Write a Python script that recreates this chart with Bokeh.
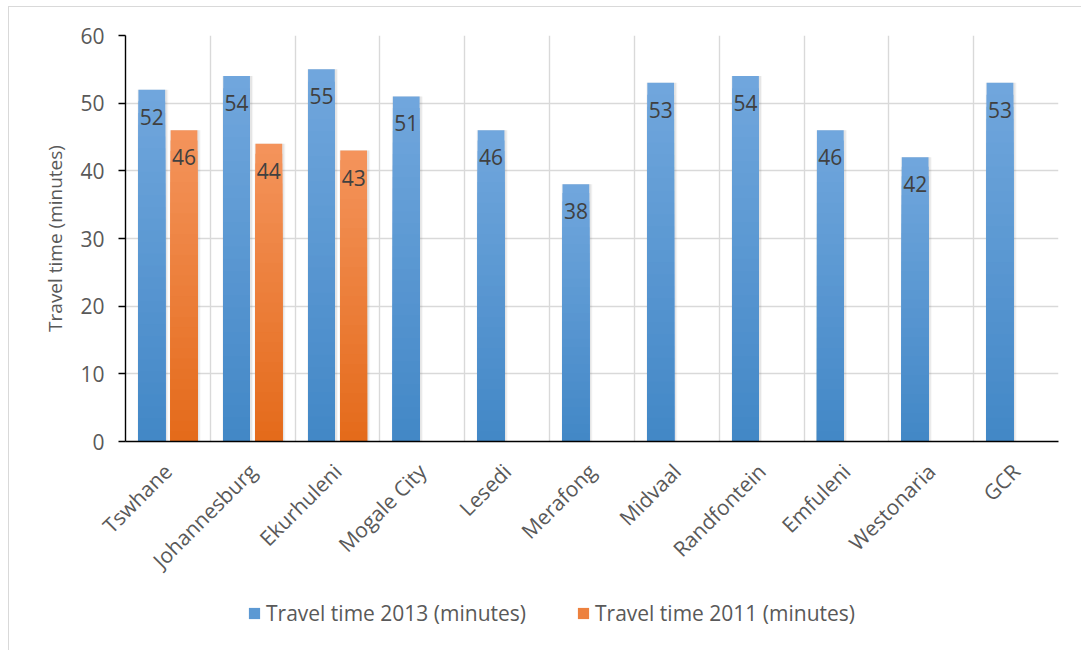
import math
from bokeh.plotting import figure
from bokeh.layouts import column
from bokeh.models import (Range1d, FixedTicker, ColumnDataSource, Legend,
                          LegendItem, InlineStyleSheet)
from bokeh.core.properties import value
from bokeh.embed import file_html
from bokeh.resources import INLINE

# ---- data -------------------------------------------------------------
regions = ["Tswhane", "Johannesburg", "Ekurhuleni", "Mogale City", "Lesedi",
           "Merafong", "Midvaal", "Randfontein", "Emfuleni", "Westonaria", "GCR"]
time_2013 = [52, 54, 55, 51, 46, 38, 53, 54, 46, 42, 53]
time_2011 = [46, 44, 43]          # only the three metros have 2011 figures
y_ticks = [0, 10, 20, 30, 40, 50, 60]
series_names = ["Travel time 2013 (minutes)", "Travel time 2011 (minutes)"]

# ---- styling ------------------------------------------------------------
FONT = "Open Sans"
TEXT = "#595959"
LABEL = "#404040"
GRID = "#d9d9d9"
BAR_W = 0.315
OFFSETS = [-0.19, 0.19]
BLUE = ((0x71, 0xa7, 0xdd), (0x42, 0x87, 0xc6))     # top, bottom
ORANGE = ((0xf4, 0x94, 0x5c), (0xe4, 0x6a, 0x1a))
STEPS = 30
W, H_CHART, H_LEGEND = 1081, 590, 60

p = figure(width=W, height=H_CHART,
           x_range=Range1d(0, len(regions)), y_range=Range1d(0, 60),
           output_backend="svg", toolbar_location=None,
           min_border_left=125, min_border_right=23,
           min_border_top=35, min_border_bottom=H_CHART - 441)
p.outline_line_color = None
p.background_fill_color = "white"
p.border_fill_color = "white"


def mix(top, bottom, t):
    """t = 1 at the top of a bar, 0 at its base."""
    r, g, b = (round(bottom[i] + (top[i] - bottom[i]) * t) for i in range(3))
    return f"#{r:02x}{g:02x}{b:02x}"


def draw_series(values, offset, colors):
    xs = [i + 0.5 + offset for i in range(len(values))]
    # soft drop shadow
    shadow = ColumnDataSource(dict(x=[x + 0.012 for x in xs], top=values))
    p.vbar(x="x", top="top", bottom=0, width=BAR_W + 0.05, source=shadow,
           fill_color="#7f7f7f", fill_alpha=0.07, line_color=None)
    p.vbar(x="x", top="top", bottom=0, width=BAR_W + 0.025, source=shadow,
           fill_color="#7f7f7f", fill_alpha=0.14, line_color=None)
    # vertical gradient built from stacked, shrinking bars
    for k in range(STEPS):
        frac = 1 - k / STEPS
        src = ColumnDataSource(dict(x=xs, top=[v * frac for v in values]))
        col = mix(colors[0], colors[1], frac - 0.5 / STEPS)
        p.vbar(x="x", top="top", bottom=0, width=BAR_W, source=src,
               fill_color=col, line_color=None)
    # value labels just inside the top of each bar
    lab = ColumnDataSource(dict(x=xs, y=values, t=[str(v) for v in values]))
    p.text(x="x", y="y", text="t", source=lab, text_align="center",
           text_baseline="middle", y_offset=27,
           text_font=value(FONT), text_font_size="21px", text_color=LABEL)


draw_series(time_2013, OFFSETS[0], BLUE)
draw_series(time_2011, OFFSETS[1], ORANGE)

# ---- axes ---------------------------------------------------------------
p.yaxis.ticker = FixedTicker(ticks=y_ticks)
p.yaxis.major_tick_out = 7
p.yaxis.major_tick_in = 0
p.yaxis.minor_tick_line_color = None
p.yaxis.axis_line_color = "black"
p.yaxis.axis_line_width = 1.4
p.yaxis.major_tick_line_color = "black"
p.yaxis.major_tick_line_width = 1.4
p.yaxis.major_label_text_font = FONT
p.yaxis.major_label_text_font_size = "21px"
p.yaxis.major_label_text_color = TEXT
p.yaxis.major_label_standoff = 14
p.yaxis.axis_label = "Travel time (minutes)"
p.yaxis.axis_label_text_font = FONT
p.yaxis.axis_label_text_font_size = "19px"
p.yaxis.axis_label_text_font_style = "normal"
p.yaxis.axis_label_text_color = TEXT
p.yaxis.axis_label_standoff = 9

p.xaxis.ticker = FixedTicker(ticks=[i + 0.5 for i in range(len(regions))])
p.xaxis.major_label_overrides = {i + 0.5: name for i, name in enumerate(regions)}
p.xaxis.major_tick_line_color = None
p.xaxis.minor_tick_line_color = None
p.xaxis.axis_line_color = "black"
p.xaxis.axis_line_width = 1.4
p.xaxis.major_label_orientation = math.pi / 4
p.xaxis.major_label_text_font = FONT
p.xaxis.major_label_text_font_size = "21px"
p.xaxis.major_label_text_color = TEXT
p.xaxis.major_label_standoff = 20

p.ygrid.grid_line_color = GRID
p.ygrid.grid_line_width = 1.4
p.xgrid.ticker = FixedTicker(ticks=list(range(1, len(regions) + 1)))
p.xgrid.grid_line_color = GRID
p.xgrid.grid_line_width = 1.4

# ---- legend strip underneath the chart ------------------------------------
leg = figure(width=W, height=H_LEGEND, x_range=Range1d(0, 1),
             y_range=Range1d(0, 1), output_backend="svg",
             toolbar_location=None, x_axis_type=None, y_axis_type=None,
             min_border=0)
leg.outline_line_color = None
leg.grid.visible = False
swatches = []
for colors in (BLUE, ORANGE):
    # a zero-height bar per series so the legend has a swatch to draw
    holder = ColumnDataSource(dict(x=[0.5], top=[0.0]))
    swatches.append(leg.vbar(x="x", top="top", bottom=0, width=0.01,
                             source=holder,
                             fill_color=mix(colors[0], colors[1], 0.55),
                             line_color=None))
legend = Legend(items=[LegendItem(label=n, renderers=[r])
                       for n, r in zip(series_names, swatches)],
                orientation="horizontal", location=(122, 23),
                border_line_color=None, background_fill_alpha=0,
                padding=0, margin=0, spacing=50,
                glyph_width=14, glyph_height=14, label_standoff=5,
                label_text_font=FONT, label_text_font_size="21px",
                label_text_color=TEXT)
leg.add_layout(legend, "center")

page = column(p, leg, spacing=0)
# light frame round the chart area (left and top edges)
page.stylesheets = [InlineStyleSheet(css=(
    ":host::after{content:'';position:absolute;left:8px;top:6px;right:0;bottom:0;"
    "border-left:1.5px solid #d9d9d9;border-top:1.5px solid #d9d9d9;"
    "pointer-events:none;}"))]

open("out.html", "w").write(file_html(page, INLINE))
